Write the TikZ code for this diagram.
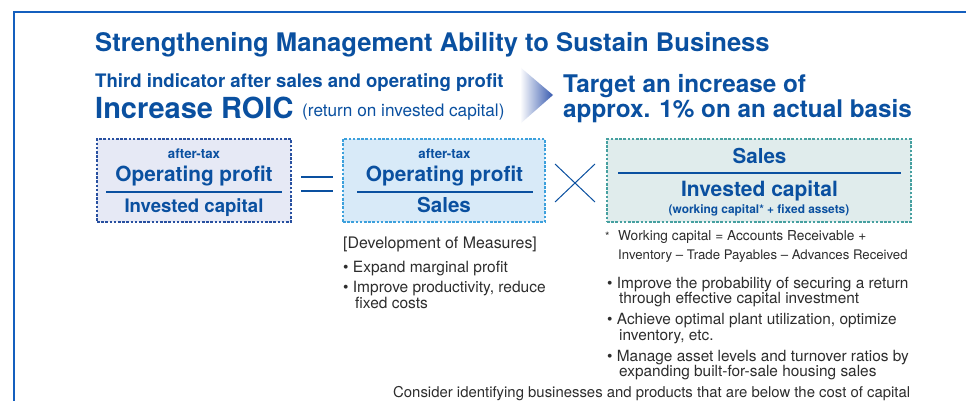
\documentclass[tikz,border=0pt]{standalone}
\usepackage{fontspec}
\setmainfont{TeX Gyre Heros}
\definecolor{mainblue}{RGB}{10,80,160}
\definecolor{frameblue}{RGB}{20,95,190}
\definecolor{graytext}{RGB}{45,45,45}
\definecolor{fillA}{RGB}{230,233,245}
\definecolor{drawA}{RGB}{40,80,160}
\definecolor{fillB}{RGB}{216,234,248}
\definecolor{drawB}{RGB}{60,160,220}
\definecolor{fillC}{RGB}{224,236,236}
\definecolor{drawC}{RGB}{70,160,160}
\definecolor{arrowblue}{RGB}{55,90,175}
\tikzset{
  dashbox/.style={dash pattern=on 2.6pt off 1.6pt, line width=1.1pt, inner sep=0pt},
  txt/.style={inner sep=0pt, anchor=base west},
  ctxt/.style={inner sep=0pt, anchor=base},
  fs/.style={font=\fontsize{#1}{#1}\selectfont},
  fb/.style={font=\bfseries\fontsize{#1}{#1}\selectfont},
  rule/.style={mainblue, line width=1.2pt},
}
\begin{document}
\begin{tikzpicture}[x=1pt,y=-1pt]
\useasboundingbox (0,0) rectangle (966,401);
\fill[white] (0,0) rectangle (966,401);
\draw[frameblue, line width=1.6pt] (14,402) -- (14,12) -- (967,12);

% headings
\node[txt, fb=25.6, text=mainblue] (title) at (95,52) {Strengthening Management Ability to Sustain Business};
\node[txt, fb=18.6, text=mainblue] (third) at (95,88) {Third indicator after sales and operating profit};
\node[txt, fb=29, text=mainblue] (roic) at (95,119) {Increase ROIC};
\node[txt, fs=17.2, text=mainblue] (roicsub) at (302,117) {(return on invested capital)};
\shade[left color=white, right color=arrowblue] (520,67) -- (553,95) -- (520,124) -- cycle;
\node[txt, fb=24.3, text=mainblue] (target1) at (563,93) {Target an increase of};
\node[txt, fb=24.3, text=mainblue] (target2) at (563,118) {approx. 1\% on an actual basis};

% box 1
\node[dashbox, draw=drawA, fill=fillA, minimum width=194pt, minimum height=83pt] (boxA) at (194,180.5) {};
\node[ctxt, fb=13.3, text=mainblue] (aTax) at (194,158) {after-tax};
\node[ctxt, fb=20.8, text=mainblue] (aNum) at (194,181.5) {Operating profit};
\draw[rule] (106,192) -- (282,192);
\node[ctxt, fb=18.6, text=mainblue] (aDen) at (194,212.5) {Invested capital};

% equals
\draw[mainblue, line width=1.1pt] (301,177) -- (333,177) (301,191) -- (333,191);

% box 2
\node[dashbox, draw=drawB, fill=fillB, minimum width=202pt, minimum height=83pt] (boxB) at (444,180.5) {};
\node[ctxt, fb=13.3, text=mainblue] (bTax) at (444.5,158) {after-tax};
\node[ctxt, fb=20.8, text=mainblue] (bNum) at (444.5,181.5) {Operating profit};
\draw[rule] (357,192) -- (533,192);
\node[ctxt, fb=20.6, text=mainblue] (bDen) at (444,212.5) {Sales};

% cross
\draw[mainblue, line width=1pt] (555,164) -- (595,202) (555,202) -- (595,164);

% box 3
\node[dashbox, draw=drawC, fill=fillC, minimum width=304pt, minimum height=83pt] (boxC) at (759,180.5) {};
\node[ctxt, fb=20.6, text=mainblue] (cNum) at (759.5,163.5) {Sales};
\draw[rule] (618,173) -- (901,173);
\node[ctxt, fb=21, text=mainblue] (cDen) at (759.5,196) {Invested capital};
\node[ctxt, fb=11.9, text=mainblue] (cSub) at (759,213.5) {(working capital* + fixed assets)};

% development of measures
\node[txt, fs=15.9, text=graytext] (dev) at (343,248.5) {[Development of Measures]};
\node[txt, fs=15.5, text=graytext] (d1) at (343,272) {• Expand marginal profit};
\node[txt, fs=15.5, text=graytext] (d2) at (343,292) {• Improve productivity, reduce};
\node[txt, fs=15.5, text=graytext] (d3) at (355,308) {fixed costs};

% footnote
\node[txt, fs=11.5, text=graytext] (star) at (605,240) {*};
\node[txt, fs=13.7, text=graytext] (w1) at (618,240) {Working capital = Accounts Receivable +};
\node[txt, fs=13.2, text=graytext] (w2) at (618,259) {Inventory – Trade Payables – Advances Received};

% right bullets
\node[txt, fs=15.4, text=graytext] (r1) at (607,288) {• Improve the probability of securing a return};
\node[txt, fs=15.4, text=graytext] (r1b) at (619,303) {through effective capital investment};
\node[txt, fs=15.4, text=graytext] (r2) at (607,324) {• Achieve optimal plant utilization, optimize};
\node[txt, fs=15.4, text=graytext] (r2b) at (619,340) {inventory, etc.};
\node[txt, fs=15.4, text=graytext] (r3) at (607,361) {• Manage asset levels and turnover ratios by};
\node[txt, fs=15.4, text=graytext] (r3b) at (619,376) {expanding built-for-sale housing sales};

\node[txt, fs=14.9, text=graytext] (consider) at (393,397) {Consider identifying businesses and products that are below the cost of capital};
\end{tikzpicture}
\end{document}
